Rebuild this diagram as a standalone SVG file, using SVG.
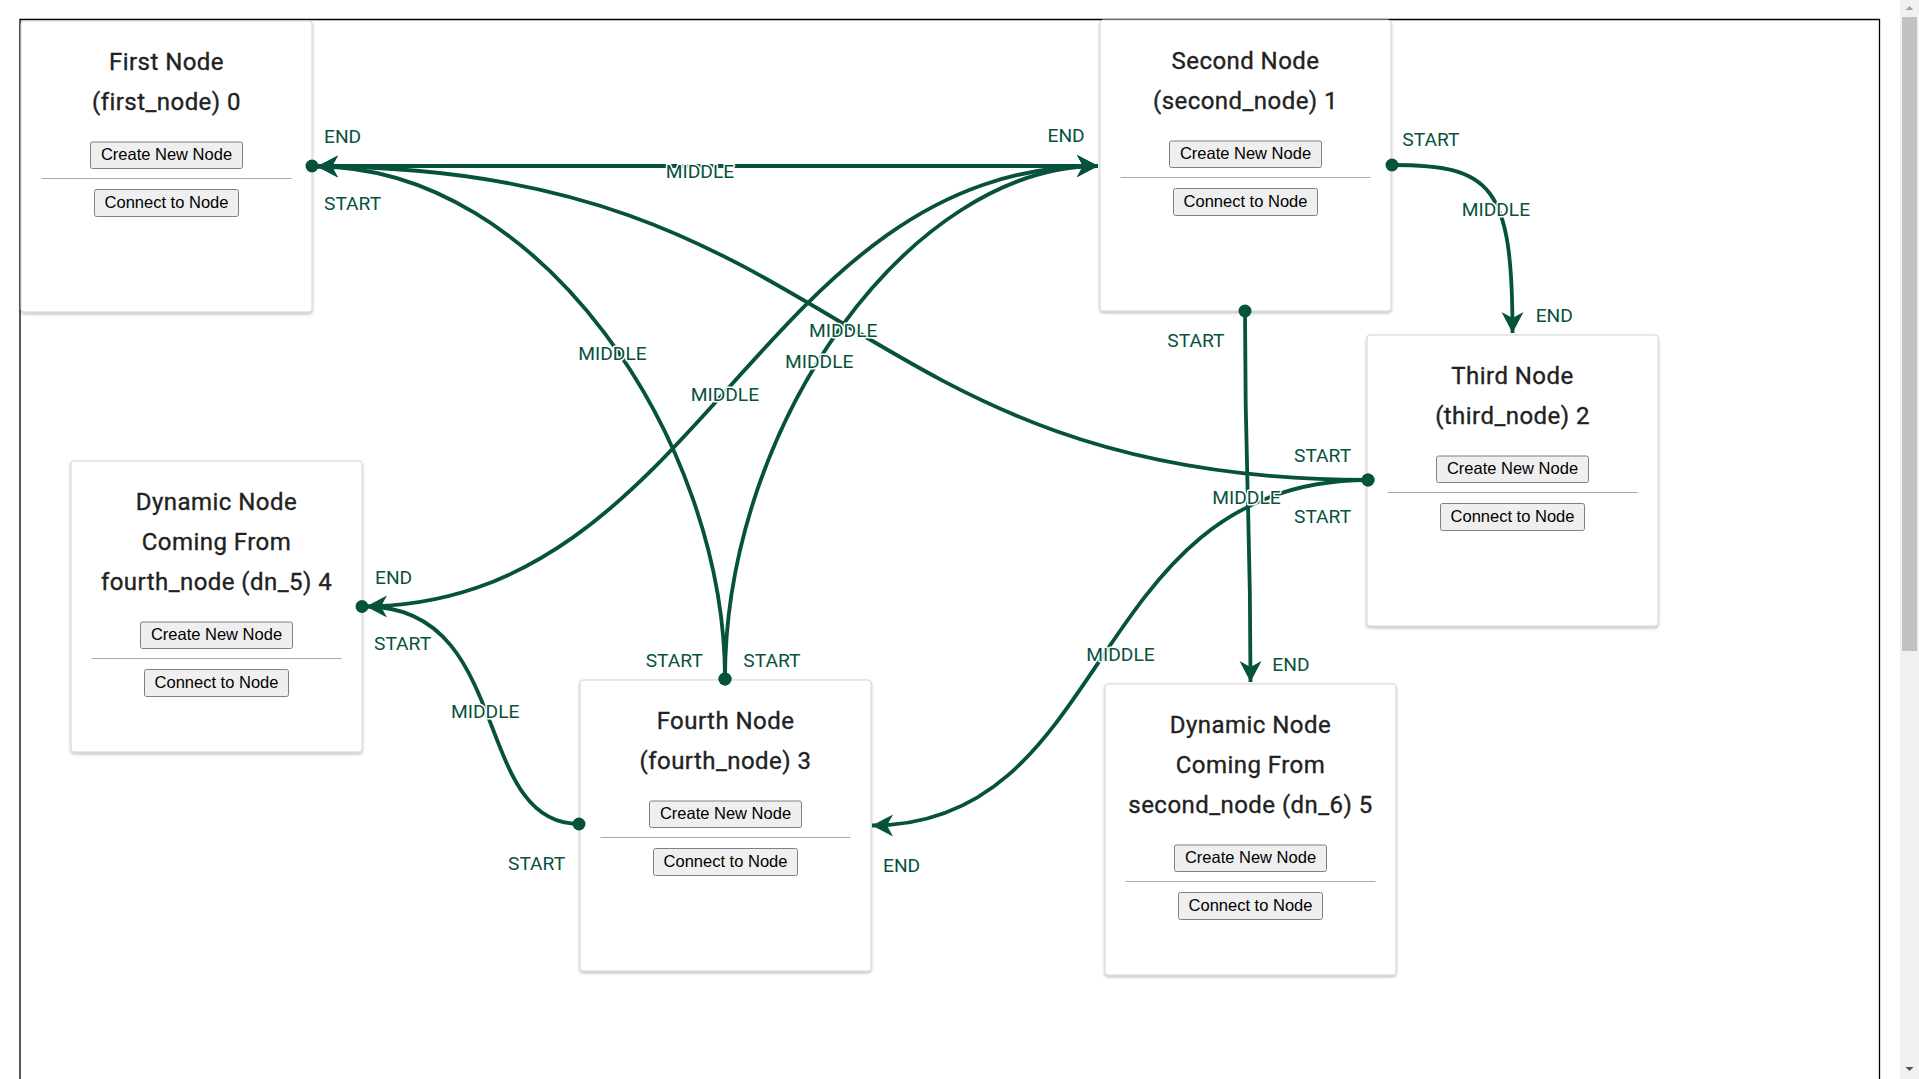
<svg xmlns="http://www.w3.org/2000/svg" width="1919" height="1079" viewBox="0 0 1919 1079">
<defs>
<filter id="sh" x="-5%" y="-5%" width="110%" height="112%">
<feDropShadow dx="0" dy="1.5" stdDeviation="1.5" flood-color="#000" flood-opacity="0.28"/>
</filter>
<marker id="arrow" markerUnits="userSpaceOnUse" viewBox="-24 -13 26 26" refX="0" refY="0" markerWidth="26" markerHeight="26" orient="auto" overflow="visible">
<path d="M0,0 L-21,-11 L-15,0 L-21,11 Z" fill="#07523d"/>
</marker>
<marker id="dot" markerUnits="userSpaceOnUse" viewBox="-8 -8 16 16" refX="0" refY="0" markerWidth="16" markerHeight="16" orient="auto" overflow="visible">
<circle cx="0" cy="0" r="6.5" fill="#07523d"/>
</marker>
<style>
.card{fill:#fff;stroke:#d4d4d4;stroke-width:1;filter:url(#sh)}
.title{font-family:Roboto,"Noto Sans",sans-serif;font-size:24px;font-weight:400;letter-spacing:0.45px;fill:#222;stroke:#222;stroke-width:0.35;text-anchor:middle}
.btn{fill:#efefef;stroke:#808080;stroke-width:1}
.btxt{font-family:"Liberation Sans",Arial,sans-serif;font-size:16.5px;fill:#000;text-anchor:middle}
.hr{stroke:#a8a8a8;stroke-width:1.2}
.edge{fill:none;stroke:#07523d;stroke-width:3.8;marker-start:url(#dot);marker-end:url(#arrow)}
.lbl{font-family:Roboto,"Noto Sans",sans-serif;font-size:19.2px;fill:#07523d;stroke:#fff;stroke-width:3;paint-order:stroke;stroke-linejoin:round}
.mid{text-anchor:middle}
</style>
</defs>
<rect x="0" y="0" width="1919" height="1079" fill="#fff"/>
<path d="M20,1079 L20,19.5 L1879.5,19.5 L1879.5,1079" fill="none" stroke="#000" stroke-width="1.3"/>

<g id="node-first_node" transform="translate(21,21)">
<rect class="card" x="0" y="0" width="291" height="291" rx="3"/>
<text class="title" x="145.5" y="49">First Node</text>
<text class="title" x="145.5" y="89">(first_node) 0</text>
<rect class="btn" x="69.5" y="121" width="152" height="26.5" rx="2"/>
<text class="btxt" x="145.5" y="139">Create New Node</text>
<line class="hr" x1="20.5" y1="157.5" x2="270.5" y2="157.5"/>
<rect class="btn" x="73.5" y="168.5" width="144" height="27" rx="2"/>
<text class="btxt" x="145.5" y="186.5">Connect to Node</text>
</g>

<g id="node-second_node" transform="translate(1100,20)">
<rect class="card" x="0" y="0" width="291" height="291" rx="3"/>
<text class="title" x="145.5" y="49">Second Node</text>
<text class="title" x="145.5" y="89">(second_node) 1</text>
<rect class="btn" x="69.5" y="121" width="152" height="26.5" rx="2"/>
<text class="btxt" x="145.5" y="139">Create New Node</text>
<line class="hr" x1="20.5" y1="157.5" x2="270.5" y2="157.5"/>
<rect class="btn" x="73.5" y="168.5" width="144" height="27" rx="2"/>
<text class="btxt" x="145.5" y="186.5">Connect to Node</text>
</g>

<g id="node-third_node" transform="translate(1367,335)">
<rect class="card" x="0" y="0" width="291" height="291" rx="3"/>
<text class="title" x="145.5" y="49">Third Node</text>
<text class="title" x="145.5" y="89">(third_node) 2</text>
<rect class="btn" x="69.5" y="121" width="152" height="26.5" rx="2"/>
<text class="btxt" x="145.5" y="139">Create New Node</text>
<line class="hr" x1="20.5" y1="157.5" x2="270.5" y2="157.5"/>
<rect class="btn" x="73.5" y="168.5" width="144" height="27" rx="2"/>
<text class="btxt" x="145.5" y="186.5">Connect to Node</text>
</g>

<g id="node-fourth_node" transform="translate(580,680)">
<rect class="card" x="0" y="0" width="291" height="291" rx="3"/>
<text class="title" x="145.5" y="49">Fourth Node</text>
<text class="title" x="145.5" y="89">(fourth_node) 3</text>
<rect class="btn" x="69.5" y="121" width="152" height="26.5" rx="2"/>
<text class="btxt" x="145.5" y="139">Create New Node</text>
<line class="hr" x1="20.5" y1="157.5" x2="270.5" y2="157.5"/>
<rect class="btn" x="73.5" y="168.5" width="144" height="27" rx="2"/>
<text class="btxt" x="145.5" y="186.5">Connect to Node</text>
</g>

<g id="node-dn_5" transform="translate(71,461)">
<rect class="card" x="0" y="0" width="291" height="291" rx="3"/>
<text class="title" x="145.5" y="49">Dynamic Node</text>
<text class="title" x="145.5" y="89">Coming From</text>
<text class="title" x="145.5" y="129">fourth_node (dn_5) 4</text>
<rect class="btn" x="69.5" y="161" width="152" height="26.5" rx="2"/>
<text class="btxt" x="145.5" y="179">Create New Node</text>
<line class="hr" x1="20.5" y1="197.5" x2="270.5" y2="197.5"/>
<rect class="btn" x="73.5" y="208.5" width="144" height="27" rx="2"/>
<text class="btxt" x="145.5" y="226.5">Connect to Node</text>
</g>

<g id="node-dn_6" transform="translate(1105,684)">
<rect class="card" x="0" y="0" width="291" height="291" rx="3"/>
<text class="title" x="145.5" y="49">Dynamic Node</text>
<text class="title" x="145.5" y="89">Coming From</text>
<text class="title" x="145.5" y="129">second_node (dn_6) 5</text>
<rect class="btn" x="69.5" y="161" width="152" height="26.5" rx="2"/>
<text class="btxt" x="145.5" y="179">Create New Node</text>
<line class="hr" x1="20.5" y1="197.5" x2="270.5" y2="197.5"/>
<rect class="btn" x="73.5" y="208.5" width="144" height="27" rx="2"/>
<text class="btxt" x="145.5" y="226.5">Connect to Node</text>
</g>

<g id="connectors">
<path id="e1" class="edge" d="M312,166 L1098,166"/>
<path id="e2" class="edge" d="M1392,165 C1492,165 1512.5,185 1512.5,333"/>
<path id="e3" class="edge" d="M1245,311 C1245,497 1250.5,497 1250.5,682"/>
<path id="e4" class="edge" d="M1368,480 C842,480 843,166.5 317,166.5"/>
<path id="e5" class="edge" d="M1368,480 C1085,480 1115,825.5 872,825.5"/>
<path id="e6" class="edge" d="M725,679 C725,440 540,166.5 317,166.5"/>
<path id="e7" class="edge" d="M725,679 C725,422 912,166 1098,166"/>
<path id="e8" class="edge" d="M579,824 C471,824 514,606.5 366,606.5"/>
<path id="e9" class="edge" d="M362,606.5 C702,606.5 758,166 1098,166"/>
<g id="labels">
<text class="lbl" x="324" y="143.3">END</text>
<text class="lbl" x="324" y="210">START</text>
<text class="lbl mid" x="700" y="178.3">MIDDLE</text>
<text class="lbl" x="1047.5" y="141.7">END</text>
<text class="lbl" x="1402.3" y="146">START</text>
<text class="lbl" x="1461.7" y="215.7">MIDDLE</text>
<text class="lbl" x="1535.7" y="321.7">END</text>
<text class="lbl" x="1167.3" y="347.3">START</text>
<text class="lbl" x="1212.3" y="504">MIDDLE</text>
<text class="lbl" x="1272.3" y="670.7">END</text>
<text class="lbl" x="1294" y="461.7">START</text>
<text class="lbl" x="1294" y="523.3">START</text>
<text class="lbl" x="809" y="336.7">MIDDLE</text>
<text class="lbl" x="1086.3" y="661">MIDDLE</text>
<text class="lbl" x="883" y="871.7">END</text>
<text class="lbl" x="578.3" y="360">MIDDLE</text>
<text class="lbl" x="785" y="368.3">MIDDLE</text>
<text class="lbl" x="690.7" y="400.7">MIDDLE</text>
<text class="lbl" x="645.7" y="666.7">START</text>
<text class="lbl" x="743.3" y="666.7">START</text>
<text class="lbl" x="375" y="584">END</text>
<text class="lbl" x="374" y="650">START</text>
<text class="lbl" x="508" y="870">START</text>
<text class="lbl" x="451" y="718">MIDDLE</text>
</g>
</g>

<g id="scrollbar">
<rect x="1900" y="0" width="19" height="1079" fill="#f1f1f1"/>
<rect x="1902" y="17" width="15" height="634" fill="#c1c1c1"/>
<path d="M1905.5,10 L1909.5,6 L1913.5,10 Z" fill="#a3a3a3"/>
<path d="M1905.5,1067 L1909.5,1071 L1913.5,1067 Z" fill="#505050"/>
</g>
</svg>
